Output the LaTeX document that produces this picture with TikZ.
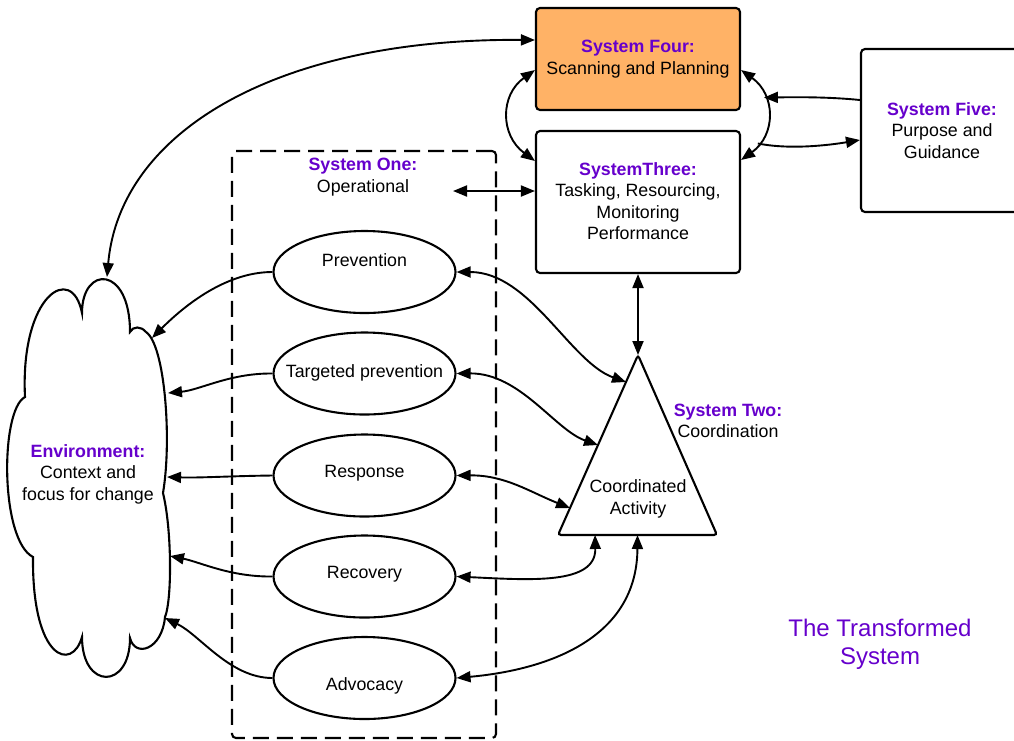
\documentclass[tikz,border=0pt]{standalone}
\usepackage{fontspec}
\setmainfont{Liberation Sans}
\usetikzlibrary{arrows.meta,shapes.geometric,calc}
\definecolor{sysviolet}{HTML}{6600CC}
\definecolor{sysorange}{HTML}{FFB266}
\newcommand\sysname[1]{{\color{sysviolet}\bfseries #1}}

\begin{document}
\begin{tikzpicture}[x=1pt,y=-1pt,
  txt/.style={font=\fontsize{17.8}{21.5}\selectfont, align=center},
  outline/.style={draw, line width=2.1pt},
  box/.style={outline, rounded corners=4pt, inner sep=0pt, txt},
  oval/.style={outline, ellipse, minimum width=182pt, minimum height=82pt, inner sep=0pt},
  tip/.tip={Triangle[length=14pt,width=11pt]},
  link/.style={line width=1.9pt, -tip},
  both/.style={line width=1.9pt, tip-tip},
]
\useasboundingbox (0,0) rectangle (1014,740);

% environment cloud
\draw[outline, fill=white] (82,313) .. controls (82,265) and (130,265) .. (130,332)
  .. controls (133,326) and (141,326) .. (146,332)
  .. controls (165,345) and (172,440) .. (163,493)
  .. controls (172,530) and (172,600) .. (165,617)
  .. controls (162,650) and (135,658) .. (130,638)
  .. controls (130,690) and (82,690) .. (82,637)
  .. controls (72,672) and (32,660) .. (33,557)
  .. controls (0,540) and (0,410) .. (25,397)
  .. controls (20,295) and (72,262) .. (82,313) -- cycle;
\node[txt] (env) at (88,474) {\sysname{Environment:}\\Context and\\focus for change};
\coordinate (envtop) at (107,277);
\coordinate (e1) at (152,338);
\coordinate (e2) at (168,393);
\coordinate (e3) at (167,477);
\coordinate (e4) at (170,556);
\coordinate (e5) at (165,618);

% system one: operational units
\node[outline, dash pattern=on 16pt off 8pt, rounded corners=4pt,
      minimum width=264pt, minimum height=587pt] (sysone) at (364,444.5) {};
\node[txt] (s1) at (363,177) {\sysname{System One:}\\Operational};
\coordinate (optip) at (453,191);

\node[oval, label={[txt, yshift=12pt]center:Prevention}] (prev) at (364.5,272) {};
\node[oval, label={[txt, yshift=1pt]center:Targeted prevention}] (targ) at (364.5,373.5) {};
\node[oval, label={[txt, yshift=2pt]center:Response}] (resp) at (364.5,475.5) {};
\node[oval, label={[txt, yshift=2pt]center:Recovery}] (reco) at (364.5,576.5) {};
\node[oval, label={[txt, yshift=-8pt]center:Advocacy}] (advo) at (364.5,678) {};

% systems three, four, five
\node[box, fill=sysorange, minimum width=204pt, minimum height=102pt] (s4) at (638,59)
  {\sysname{System Four:}\\Scanning and Planning};
\node[box, minimum width=204pt, minimum height=142pt, text depth=2pt] (s3) at (638,202)
  {\sysname{SystemThree:}\\Tasking, Resourcing,\\Monitoring\\Performance};
\begin{scope}
  \clip (0,0) rectangle (1014,740);
  \node[box, minimum width=162pt, minimum height=163pt] (s5) at (942,130.5)
    {\sysname{System Five:}\\Purpose and\\Guidance};
\end{scope}

% system two: coordination triangle
\coordinate (apex) at (638,355);
\coordinate (bl) at (558,535);
\coordinate (br) at (717,535);
\draw[outline, rounded corners=3pt] (apex) -- (bl) -- (br) -- cycle;
\node[txt] (act) at (638,499) {Coordinated\\Activity};
\node[txt] (s2) at (728,421) {\sysname{System Two:}\\Coordination};
\coordinate (c1) at ($(apex)!0.15!(bl)$);
\coordinate (c2) at ($(apex)!0.5!(bl)$);
\coordinate (c3) at ($(apex)!0.85!(bl)$);
\coordinate (c4) at ($(bl)!0.233!(br)$);
\coordinate (c5) at ($(bl)!0.5!(br)$);

% title
\node[font=\fontsize{24}{28}\selectfont, text=sysviolet, align=center] (title) at (880,644)
  {The Transformed\\System};

% operations acting on the environment
\draw[link] (prev.west) .. controls (230,272) and (190,300) .. (e1);
\draw[link] (targ.west) .. controls (230,373) and (200,390) .. (e2);
\draw[link] (resp.west) .. controls (230,476) and (200,478) .. (e3);
\draw[link] (reco.west) .. controls (230,577) and (200,562) .. (e4);
\draw[link] (advo.west) .. controls (230,678) and (200,635) .. (e5);

% operations and coordination
\draw[both] (prev.east) .. controls (530,272) and (570,362) .. (c1);
\draw[both] (targ.east) .. controls (520,373) and (555,430) .. (c2);
\draw[both] (resp.east) .. controls (505,475) and (530,492) .. (c3);
\draw[both] (reco.east) .. controls (530,580) and (596,585) .. (c4);
\draw[both] (advo.east) .. controls (545,670) and (637,640) .. (c5);

% management links
\draw[both] (s3.south) -- (apex);
\draw[both] (s3.west |- optip) -- (optip);
\draw[both] (s4.west |- 0,40) .. controls (280,38) and (120,130) .. (envtop);
\draw[both] (s4.west |- 0,70) .. controls (500,95) and (500,135) .. (s3.west |- 0,161);
\draw[both] (s4.east |- 0,70) .. controls (776,95) and (776,135)
  .. coordinate[pos=0.32] (r1) coordinate[pos=0.8] (r2) (s3.east |- 0,160);
\draw[link] (s5.west |- 0,100) .. controls (830,97) and (800,97) .. (r1);
\draw[link] (r2) .. controls (790,150) and (830,145) .. (s5.west |- 0,140);
\end{tikzpicture}
\end{document}
